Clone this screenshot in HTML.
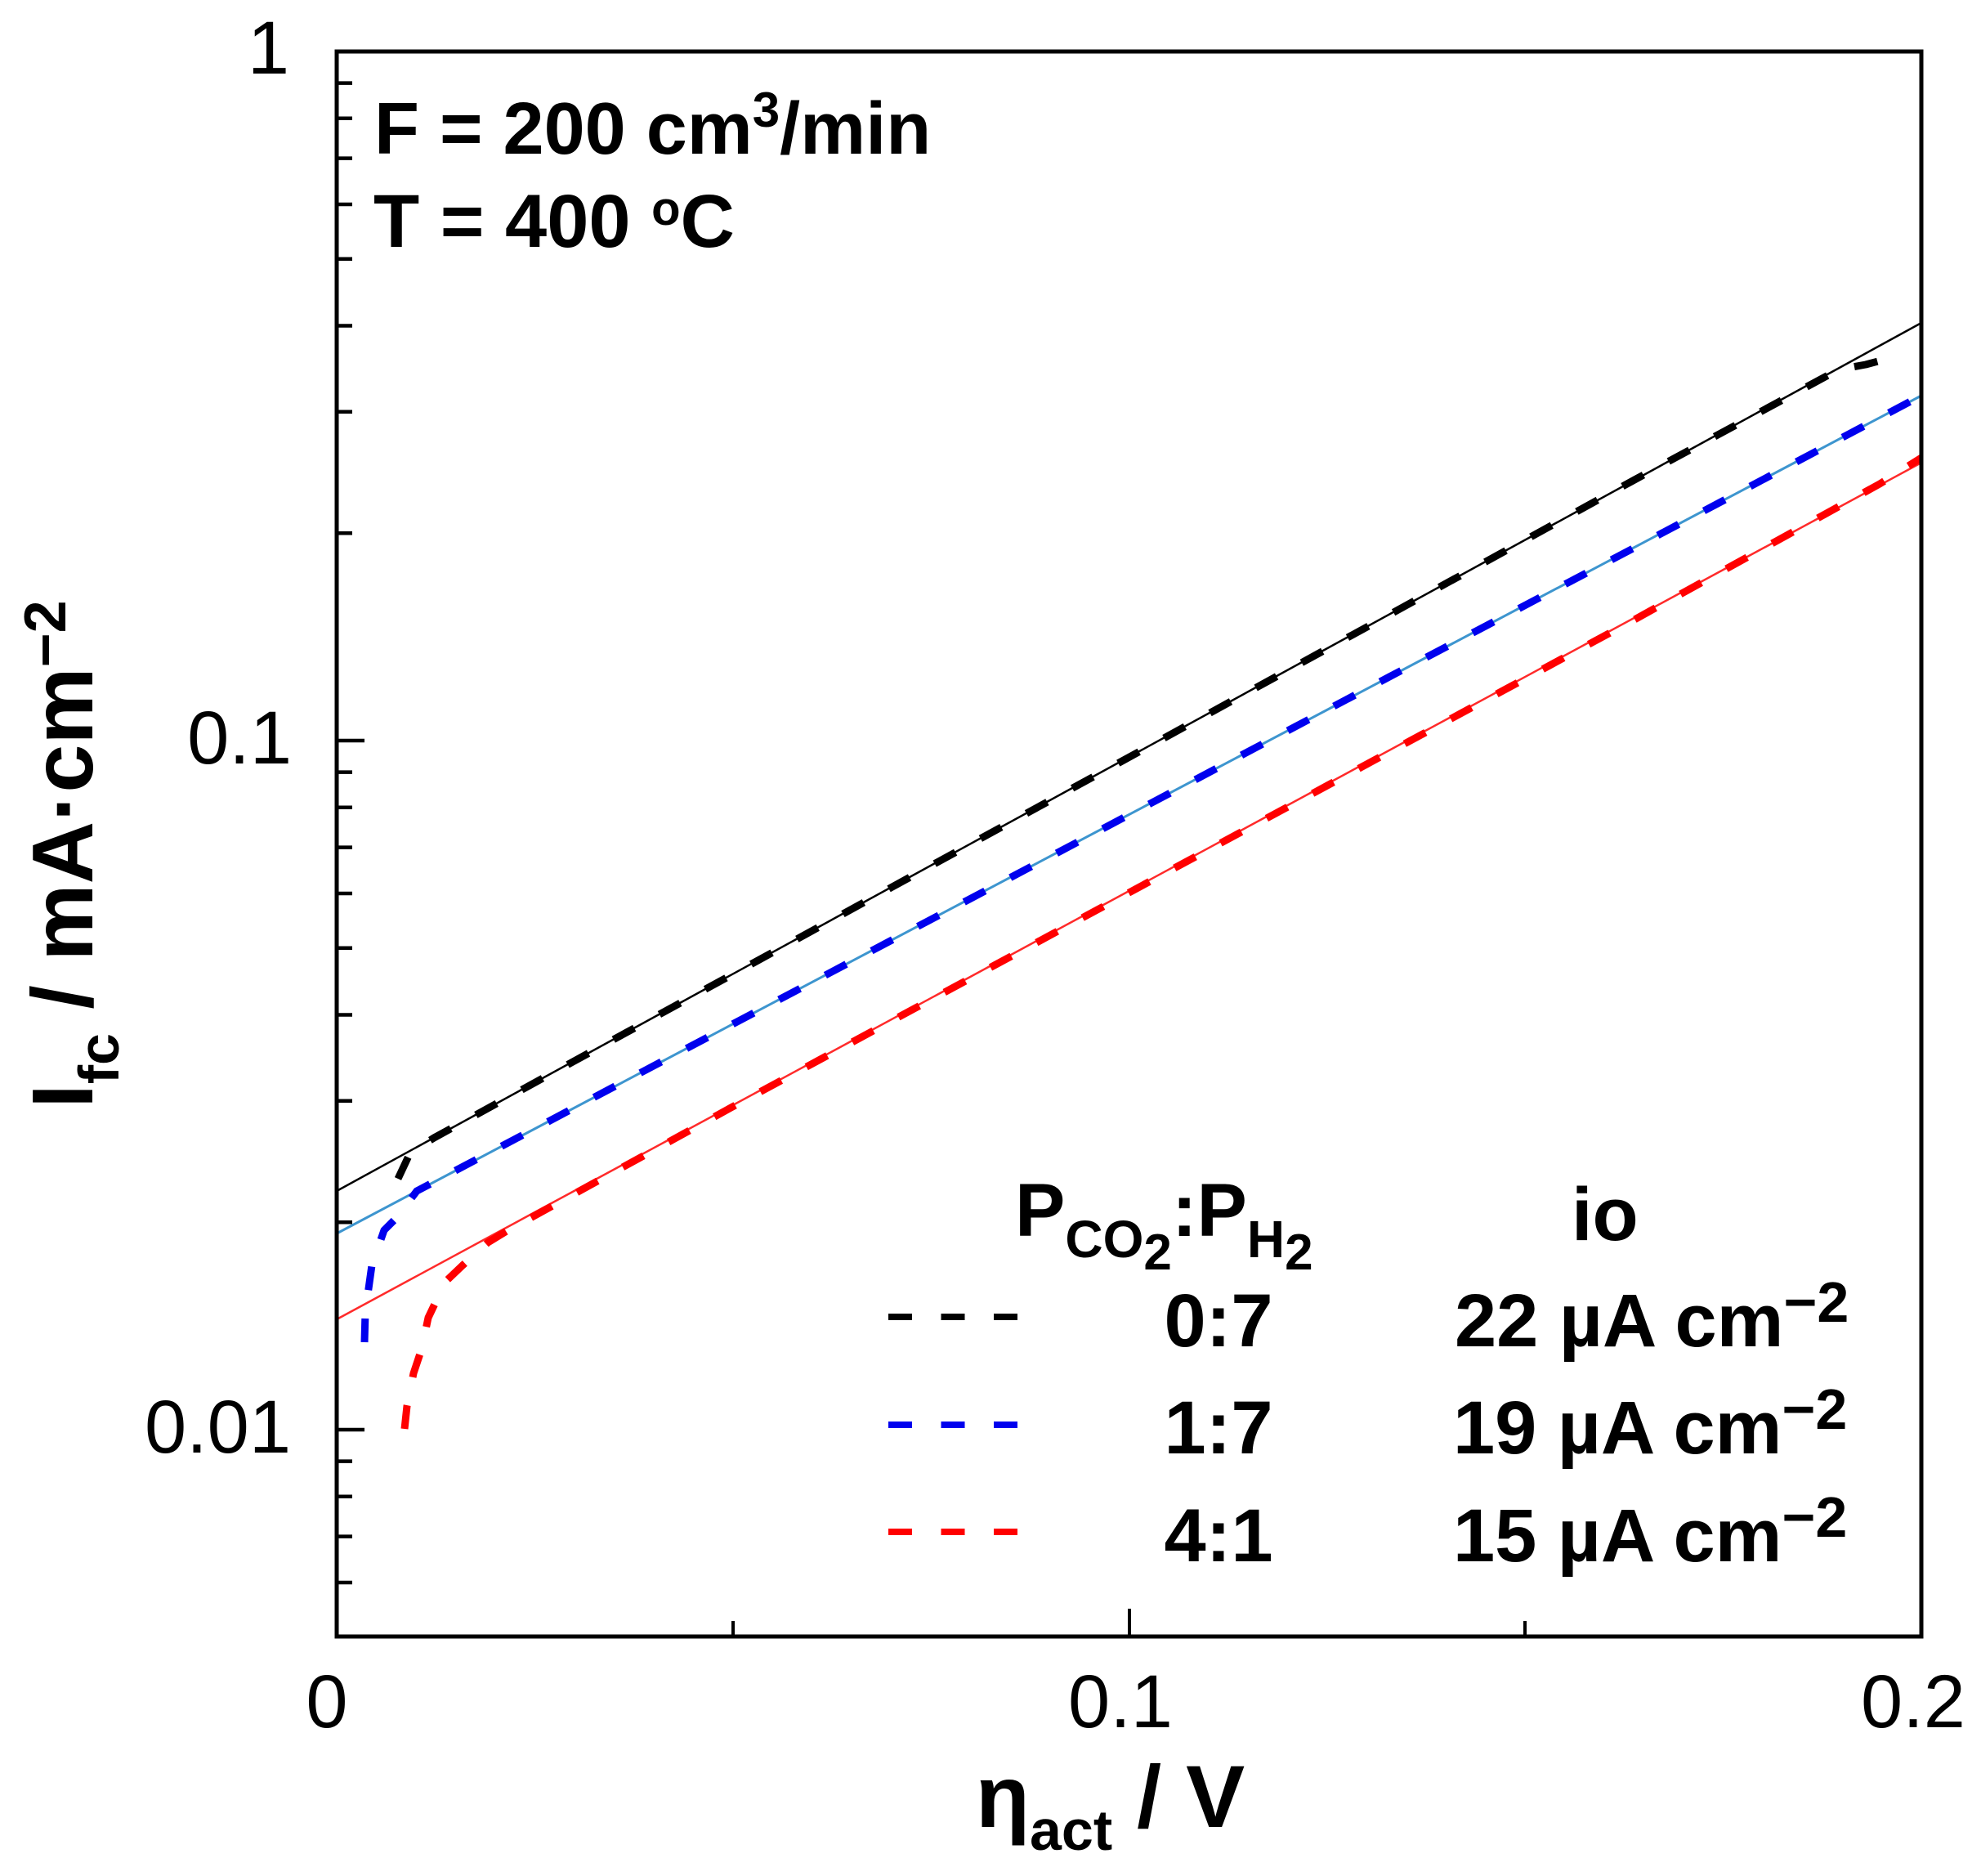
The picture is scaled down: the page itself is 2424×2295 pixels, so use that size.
<!DOCTYPE html>
<html>
<head>
<meta charset="utf-8">
<style>
html,body{margin:0;padding:0;background:#fff;}
svg{display:block;}
text{font-family:"Liberation Sans",Arial,sans-serif;fill:#000;}
</style>
</head>
<body>
<svg width="2424" height="2295" viewBox="0 0 2424 2295" xmlns="http://www.w3.org/2000/svg">
<rect x="0" y="0" width="2424" height="2295" fill="#fff"/>

<!-- fit lines -->
<line x1="412" y1="1457" x2="2351" y2="395" stroke="#000" stroke-width="2.5"/>
<line x1="412" y1="1509" x2="2351" y2="484" stroke="#3d95cf" stroke-width="3"/>
<line x1="412" y1="1614" x2="2351" y2="566" stroke="#ff2a2a" stroke-width="2.5"/>

<!-- data (dashed) -->
<g fill="none" stroke-width="9" stroke-dasharray="29 35" stroke-linejoin="round">
  <path stroke="#000" d="M487,1442 L502,1410 L531,1392 L900,1190 L1300,971 L1700,752 L2000,587 L2250,452 L2283,446 L2313,438"/>
  <path stroke="#0000ee" d="M446,1642 L447,1605 L455,1548 L470,1505 L485,1490 L510,1457 L900,1251 L1300,1040 L1700,828 L2000,670 L2351,484"/>
  <path stroke="#ff0000" d="M495,1748 L498,1720 L506,1680 L516,1650 L524,1612 L545,1568 L566,1548 L597,1520 L620,1506 L900,1352 L1300,1136 L1700,920 L2000,758 L2300,592 L2351,560"/>
</g>

<!-- axes frame -->
<rect x="412" y="63" width="1939" height="1939" fill="none" stroke="#000" stroke-width="5"/>

<!-- y ticks -->
<g stroke="#000" stroke-width="4.5">
  <line x1="412" y1="63" x2="446" y2="63"/>
  <line x1="412" y1="906" x2="446" y2="906"/>
  <line x1="412" y1="1749" x2="446" y2="1749"/>
  <line x1="412" y1="101.6" x2="431" y2="101.6"/>
  <line x1="412" y1="144.7" x2="431" y2="144.7"/>
  <line x1="412" y1="193.6" x2="431" y2="193.6"/>
  <line x1="412" y1="250" x2="431" y2="250"/>
  <line x1="412" y1="316.8" x2="431" y2="316.8"/>
  <line x1="412" y1="398.5" x2="431" y2="398.5"/>
  <line x1="412" y1="503.8" x2="431" y2="503.8"/>
  <line x1="412" y1="652.2" x2="431" y2="652.2"/>
  <line x1="412" y1="944.6" x2="431" y2="944.6"/>
  <line x1="412" y1="987.7" x2="431" y2="987.7"/>
  <line x1="412" y1="1036.6" x2="431" y2="1036.6"/>
  <line x1="412" y1="1093" x2="431" y2="1093"/>
  <line x1="412" y1="1159.8" x2="431" y2="1159.8"/>
  <line x1="412" y1="1241.5" x2="431" y2="1241.5"/>
  <line x1="412" y1="1346.8" x2="431" y2="1346.8"/>
  <line x1="412" y1="1495.2" x2="431" y2="1495.2"/>
  <line x1="412" y1="1787.6" x2="431" y2="1787.6"/>
  <line x1="412" y1="1830.7" x2="431" y2="1830.7"/>
  <line x1="412" y1="1879.6" x2="431" y2="1879.6"/>
  <line x1="412" y1="1936" x2="431" y2="1936"/>
</g>
<!-- x ticks -->
<g stroke="#000" stroke-width="4">
  <line x1="1382" y1="2002" x2="1382" y2="1968"/>
  <line x1="897" y1="2002" x2="897" y2="1983"/>
  <line x1="1866" y1="2002" x2="1866" y2="1983"/>
</g>

<!-- y tick labels -->
<g font-size="92" text-anchor="end">
  <text x="354" y="90">1</text>
  <text x="357" y="934">0.1</text>
  <text x="356" y="1777">0.01</text>
</g>
<!-- x tick labels -->
<g font-size="92" text-anchor="middle">
  <text x="400" y="2113">0</text>
  <text x="1371" y="2113">0.1</text>
  <text x="2341" y="2113">0.2</text>
</g>

<!-- axis titles -->
<text transform="translate(113,1045) rotate(-90)" text-anchor="middle" font-weight="bold" font-size="106">I<tspan font-size="70" dy="32">fc</tspan><tspan dy="-32"> / mA·cm</tspan><tspan font-size="72" dy="-33">−2</tspan></text>
<text x="1194" y="2235" font-weight="bold" font-size="108">η<tspan font-size="70" dy="28">act</tspan><tspan dy="-28"> / V</tspan></text>

<!-- condition labels -->
<text x="458" y="188" font-weight="bold" font-size="90">F = 200 cm<tspan font-size="60" dy="-33">3</tspan><tspan dy="33">/min</tspan></text>
<text x="457" y="302" font-weight="bold" font-size="92">T = 400 <tspan font-size="58" dy="-27">o</tspan><tspan dy="27">C</tspan></text>

<!-- legend -->
<g font-weight="bold">
  <text x="1242" y="1512" font-size="92">P<tspan font-size="64" dy="26">CO</tspan><tspan font-size="62" dy="15">2</tspan><tspan font-size="92" dy="-41">:P</tspan><tspan font-size="64" dy="26">H</tspan><tspan font-size="62" dy="15">2</tspan></text>
  <text x="1923" y="1517" font-size="92">io</text>

  <text x="1491" y="1647" font-size="92" text-anchor="middle">0:7</text>
  <text x="1491" y="1778" font-size="92" text-anchor="middle">1:7</text>
  <text x="1491" y="1910" font-size="92" text-anchor="middle">4:1</text>

  <text x="1780" y="1647" font-size="92">22 µA cm<tspan font-size="70" dy="-30">−2</tspan></text>
  <text x="1778" y="1778" font-size="92">19 µA cm<tspan font-size="70" dy="-30">−2</tspan></text>
  <text x="1778" y="1910" font-size="92">15 µA cm<tspan font-size="70" dy="-30">−2</tspan></text>
</g>
<g stroke-width="8" stroke-dasharray="29 35.5">
  <line x1="1087" y1="1611" x2="1245" y2="1611" stroke="#000"/>
  <line x1="1087" y1="1743" x2="1245" y2="1743" stroke="#0000ee"/>
  <line x1="1087" y1="1874" x2="1245" y2="1874" stroke="#ff0000"/>
</g>
</svg>
</body>
</html>
